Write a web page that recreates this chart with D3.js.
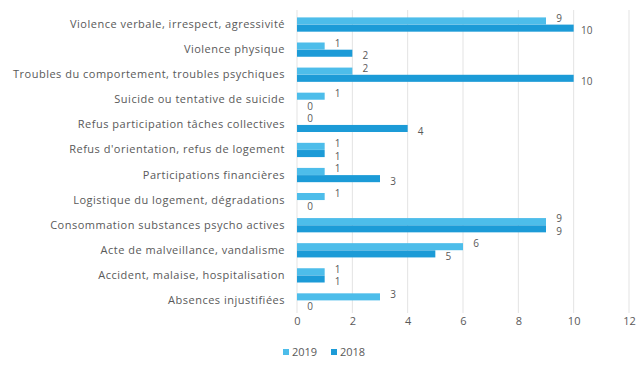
<!DOCTYPE html>
<html>
<head>
<meta charset="utf-8">
<script src="https://cdn.jsdelivr.net/npm/d3@7"></script>
<style>
  html, body { margin: 0; padding: 0; background: #ffffff; }
  svg { display: block; font-family: "Open Sans", Lato, sans-serif; }
</style>
</head>
<body>
<svg id="chart" width="640" height="369"></svg>
<script>
// Incident categories, top to bottom
const categories = [
  "Violence verbale, irrespect, agressivité",
  "Violence physique",
  "Troubles du comportement, troubles psychiques",
  "Suicide ou tentative de suicide",
  "Refus participation tâches collectives",
  "Refus d'orientation, refus de logement",
  "Participations financières",
  "Logistique du logement, dégradations",
  "Consommation substances psycho actives",
  "Acte de malveillance, vandalisme",
  "Accident, malaise, hospitalisation",
  "Absences injustifiées"
];
const values2019 = [9, 1, 2, 1, 0, 1, 1, 1, 9, 6, 1, 3];
const values2018 = [10, 2, 10, 0, 4, 1, 3, 0, 9, 5, 1, 0];
const seriesNames = ["2019", "2018"];
const xTicks = [0, 2, 4, 6, 8, 10, 12];

const colors = { "2019": "#4dbdea", "2018": "#1c9bd7" };
const textColor = "#595959";
const fontFamily = "'Open Sans', Lato, sans-serif";

const svg = d3.select("#chart");

const x = d3.scaleLinear().domain([0, 12]).range([297, 629]);
const y = d3.scaleBand().domain(categories).range([12, 313]).paddingInner(0.42).paddingOuter(0.21);
const sub = d3.scaleBand().domain(seriesNames).range([0, y.bandwidth()]).padding(0.02);

// vertical gridlines
svg.append("g")
  .selectAll("line")
  .data(xTicks)
  .join("line")
  .attr("x1", d => x(d)).attr("x2", d => x(d))
  .attr("y1", 10).attr("y2", 313)
  .attr("stroke", "#e3e3e3")
  .attr("stroke-width", 1);

// x axis tick labels
const xAxis = d3.axisBottom(x).tickValues(xTicks).tickSize(0).tickPadding(0);
svg.append("g")
  .attr("transform", "translate(0,317)")
  .call(xAxis)
  .call(g => g.select(".domain").remove())
  .call(g => g.selectAll("text")
    .attr("fill", textColor)
    .attr("font-size", 11)
    .attr("font-family", fontFamily));

// category labels
const yAxis = d3.axisLeft(y).tickSize(0).tickPadding(0);
svg.append("g")
  .attr("transform", "translate(285,0)")
  .call(yAxis)
  .call(g => g.select(".domain").remove())
  .call(g => g.selectAll("text")
    .attr("fill", textColor)
    .attr("font-size", 11)
    .attr("letter-spacing", 0.5)
    .attr("font-family", fontFamily));

const rows = categories.map((c, i) => ({ c, "2019": values2019[i], "2018": values2018[i] }));

const groups = svg.append("g")
  .selectAll("g")
  .data(rows)
  .join("g")
  .attr("transform", d => `translate(0,${y(d.c)})`);

groups.selectAll("rect")
  .data(d => seriesNames.map(s => ({ s, v: d[s] })))
  .join("rect")
  .attr("x", x(0))
  .attr("y", d => sub(d.s))
  .attr("width", d => x(d.v) - x(0))
  .attr("height", sub.bandwidth())
  .attr("fill", d => colors[d.s]);

// value labels, nudged apart so the two series' labels don't collide
groups.selectAll("text")
  .data(d => seriesNames.map(s => ({ s, v: d[s] })))
  .join("text")
  .attr("x", d => x(d.v) + 13)
  .attr("y", d => sub(d.s) + sub.bandwidth() / 2 + (d.s === "2019" ? -2.75 : 2.75))
  .attr("dy", "0.35em")
  .attr("text-anchor", "middle")
  .attr("fill", textColor)
  .attr("font-size", 10)
  .text(d => d.v);

// legend
const legend = svg.append("g").attr("transform", "translate(283,352)");
const legendItems = legend.selectAll("g")
  .data(seriesNames)
  .join("g")
  .attr("transform", (d, i) => `translate(${i * 48},0)`);
legendItems.append("rect")
  .attr("x", 0).attr("y", -3)
  .attr("width", 6).attr("height", 6)
  .attr("fill", d => colors[d]);
legendItems.append("text")
  .attr("x", 9).attr("y", 0)
  .attr("dy", "0.35em")
  .attr("fill", textColor)
  .attr("font-size", 11)
  .text(d => d);
</script>
</body>
</html>
